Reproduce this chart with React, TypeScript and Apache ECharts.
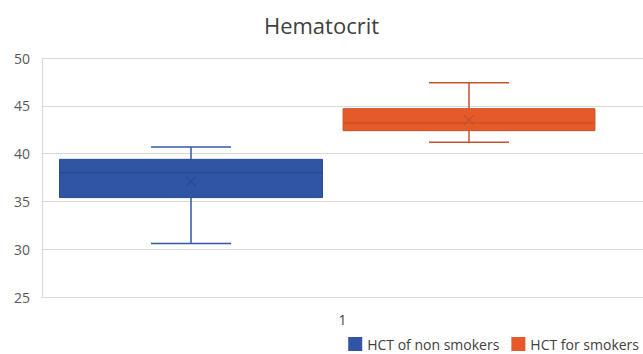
import React, { useEffect, useRef } from "react";
import * as echarts from "echarts";

const categories = ["1"];
const seriesNames = ["HCT of non smokers", "HCT for smokers"];
// [min, q1, median, q3, max, mean]
const nonSmokers = [30.6, 35.4, 38.0, 39.4, 40.7, 37.1];
const smokers = [41.2, 42.4, 43.2, 44.7, 47.4, 43.5];
const yTicks = { min: 25, max: 50, interval: 5 };

const styles = [
  { fill: "#2F55A4", stroke: "#2A4C95", median: "#27488C", whisker: "#3358A6", mean: "#2A4A90", boxFrac: 0.946, capFrac: 0.288 },
  { fill: "#E55A28", stroke: "#C4532A", median: "#BE4E27", whisker: "#C2552D", mean: "#C0522B", boxFrac: 0.906, capFrac: 0.288 },
];

function makeRender(st: any) {
  return (params: any, api: any) => {
    const xi = api.value(0);
    const mn = api.coord([xi, api.value(1)]);
    const q1 = api.coord([xi, api.value(2)]);
    const md = api.coord([xi, api.value(3)]);
    const q3 = api.coord([xi, api.value(4)]);
    const mx = api.coord([xi, api.value(5)]);
    const mean = api.coord([xi, api.value(6)]);
    const band = api.size([1, 0])[0];
    const cx = mn[0];
    const bw = band * st.boxFrac;
    const cw = band * st.capFrac;
    const m = 5;
    return {
      type: "group",
      children: [
        { type: "line", shape: { x1: cx, y1: mx[1], x2: cx, y2: q3[1] }, style: { stroke: st.whisker, lineWidth: 1.5 } },
        { type: "line", shape: { x1: cx, y1: q1[1], x2: cx, y2: mn[1] }, style: { stroke: st.whisker, lineWidth: 1.5 } },
        { type: "line", shape: { x1: cx - cw / 2, y1: mx[1], x2: cx + cw / 2, y2: mx[1] }, style: { stroke: st.whisker, lineWidth: 1.5 } },
        { type: "line", shape: { x1: cx - cw / 2, y1: mn[1], x2: cx + cw / 2, y2: mn[1] }, style: { stroke: st.whisker, lineWidth: 1.5 } },
        { type: "rect", shape: { x: cx - bw / 2, y: q3[1], width: bw, height: q1[1] - q3[1] }, style: { fill: st.fill, stroke: st.stroke, lineWidth: 1 } },
        { type: "line", shape: { x1: cx - bw / 2, y1: md[1], x2: cx + bw / 2, y2: md[1] }, style: { stroke: st.median, lineWidth: 1.2 } },
        { type: "line", shape: { x1: cx - m, y1: mean[1] - m, x2: cx + m, y2: mean[1] + m }, style: { stroke: st.mean, lineWidth: 1.2 } },
        { type: "line", shape: { x1: cx - m, y1: mean[1] + m, x2: cx + m, y2: mean[1] - m }, style: { stroke: st.mean, lineWidth: 1.2 } },
      ],
    };
  };
}

export default function App() {
  const ref = useRef<HTMLDivElement>(null);
  useEffect(() => {
    if (!ref.current) return;
    const chart = echarts.init(ref.current, null, { renderer: "svg" });
    const font = "'Open Sans', 'Noto Sans', sans-serif";
    const groups = [nonSmokers, smokers];
    chart.setOption({
      animation: false,
      title: {
        text: "Hematocrit",
        left: "center",
        top: 9,
        textStyle: { fontFamily: font, fontSize: 22, fontWeight: "normal", color: "#404040" },
      },
      legend: {
        bottom: 2,
        right: 4,
        padding: 0,
        itemWidth: 14,
        itemHeight: 14,
        itemGap: 12,
        icon: "rect",
        data: seriesNames,
        textStyle: { fontFamily: font, fontSize: 14, color: "#404040", lineHeight: 16 },
      },
      grid: [
        { left: 42, right: 0, top: 58, bottom: 57 },
        { left: 52, right: 35, top: 58, bottom: 57 },
      ],
      xAxis: [
        {
          type: "category",
          data: categories,
          gridIndex: 0,
          axisLine: { lineStyle: { color: "#D9D9D9" } },
          axisTick: { show: false },
          axisLabel: { fontFamily: font, fontSize: 14, color: "#404040", margin: 15 },
        },
        { type: "category", data: seriesNames, gridIndex: 1, show: false },
      ],
      yAxis: [
        {
          type: "value",
          gridIndex: 0,
          min: yTicks.min,
          max: yTicks.max,
          interval: yTicks.interval,
          axisLine: { show: true, lineStyle: { color: "#D9D9D9" } },
          axisTick: { show: false },
          splitLine: { lineStyle: { color: "#D9D9D9", width: 1 } },
          axisLabel: { fontFamily: font, fontSize: 14, color: "#595959", margin: 12 },
        },
        { type: "value", gridIndex: 1, min: yTicks.min, max: yTicks.max, interval: yTicks.interval, show: false },
      ],
      series: groups.map((g, i) => ({
        type: "custom",
        name: seriesNames[i],
        xAxisIndex: 1,
        yAxisIndex: 1,
        itemStyle: { color: styles[i].fill },
        renderItem: makeRender(styles[i]),
        encode: { x: 0, y: [1, 2, 3, 4, 5, 6] },
        data: [[i, ...g]],
      })),
    });
    return () => chart.dispose();
  }, []);
  return <div ref={ref} style={{ position: "absolute", left: 0, top: 0, width: 643, height: 354 }} />;
}
